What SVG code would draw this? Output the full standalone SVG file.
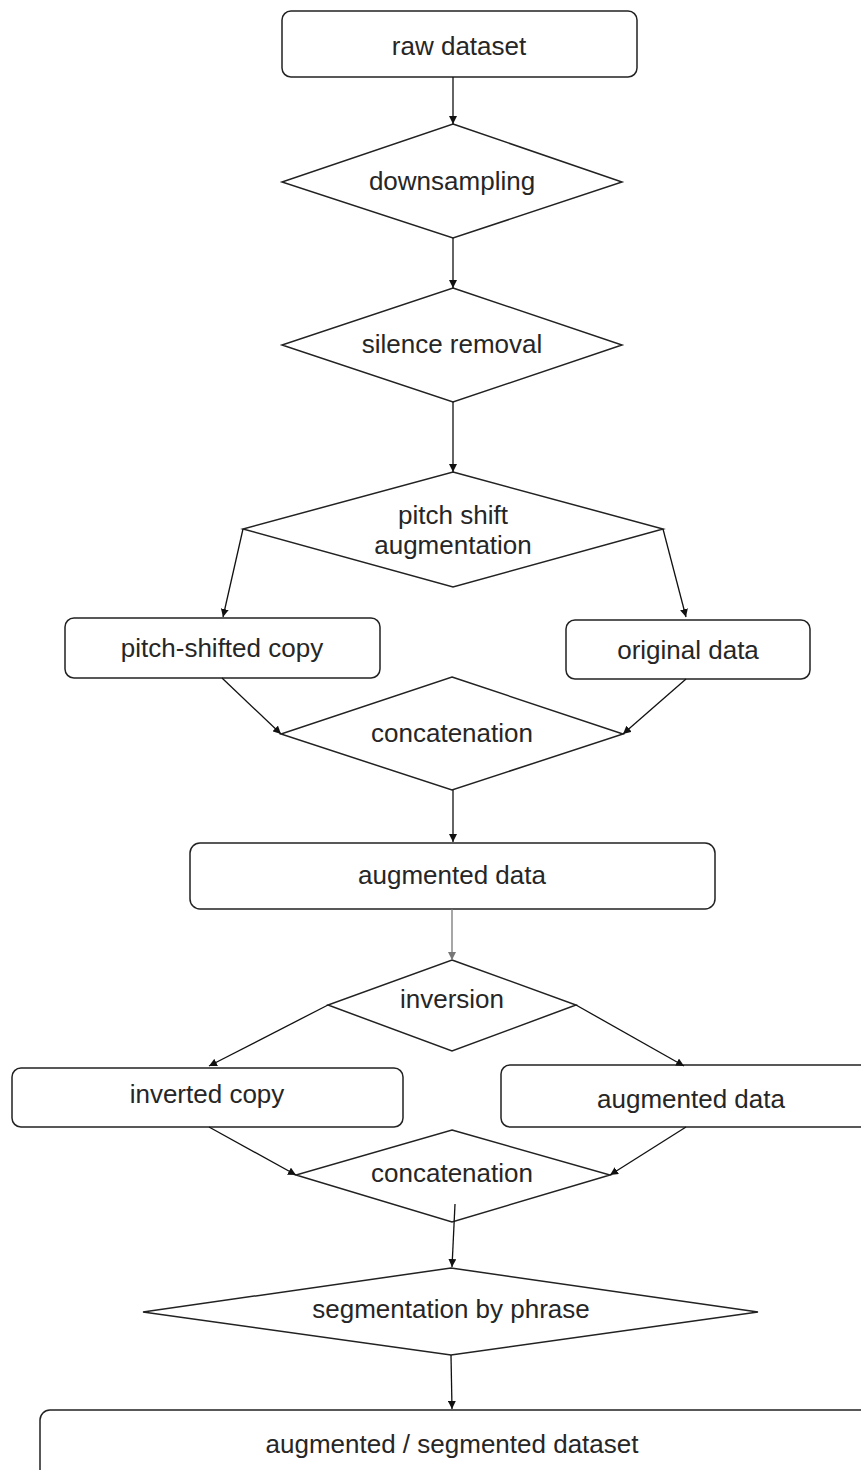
<svg xmlns="http://www.w3.org/2000/svg" width="861" height="1470" viewBox="0 0 861 1470">
<style>
.n{fill:#fff;stroke:#222;stroke-width:1.5}
.t{font-family:"Liberation Sans",Arial,sans-serif;font-size:26px;fill:#262626;text-anchor:middle}
.c{stroke:#111;stroke-width:1.3;fill:none;marker-end:url(#ah)}
</style>
<defs>
<marker id="ah" viewBox="0 0 10 10" refX="10" refY="5" markerWidth="8" markerHeight="8" markerUnits="userSpaceOnUse" orient="auto">
<path d="M0,0 L10,5 L0,10 z" fill="#111"/>
</marker>
<marker id="ahg" viewBox="0 0 10 10" refX="10" refY="5" markerWidth="8" markerHeight="8" markerUnits="userSpaceOnUse" orient="auto">
<path d="M0,0 L10,5 L0,10 z" fill="#777"/>
</marker>
</defs>
<rect width="861" height="1470" fill="#fff"/>
<g id="raw-dataset">
<rect class="n" x="282" y="11" width="355" height="66" rx="9"/>
<text class="t" x="459" y="55">raw dataset</text>
</g>
<g id="downsampling">
<polygon class="n" points="453,124 622,182 453,238 282,182"/>
<text class="t" x="452" y="190">downsampling</text>
</g>
<g id="silence-removal">
<polygon class="n" points="453,288 622,345 453,402 282,345"/>
<text class="t" x="452" y="353">silence removal</text>
</g>
<g id="pitch-shift">
<polygon class="n" points="453,472 663,529 453,587 243,529"/>
<text class="t" x="453" y="524">pitch shift</text>
<text class="t" x="453" y="554">augmentation</text>
</g>
<g id="pitch-shifted-copy">
<rect class="n" x="65" y="618" width="315" height="60" rx="9"/>
<text class="t" x="222" y="657">pitch-shifted copy</text>
</g>
<g id="original-data">
<rect class="n" x="566" y="620" width="244" height="59" rx="9"/>
<text class="t" x="688" y="659">original data</text>
</g>
<g id="concatenation-1">
<polygon class="n" points="452,677 623,734 452,790 281,734"/>
<text class="t" x="452" y="742">concatenation</text>
</g>
<g id="augmented-data">
<rect class="n" x="190" y="843" width="525" height="66" rx="10"/>
<text class="t" x="452" y="884">augmented data</text>
</g>
<g id="inversion">
<polygon class="n" points="452,960 576,1005 452,1051 328,1005"/>
<text class="t" x="452" y="1008">inversion</text>
</g>
<g id="inverted-copy">
<rect class="n" x="12" y="1068" width="391" height="59" rx="9"/>
<text class="t" x="207" y="1103">inverted copy</text>
</g>
<g id="augmented-data-2">
<rect class="n" x="501" y="1065" width="380" height="62" rx="9"/>
<text class="t" x="691" y="1108">augmented data</text>
</g>
<g id="concatenation-2">
<polygon class="n" points="452,1130 610,1175 452,1222 296,1175"/>
<text class="t" x="452" y="1182">concatenation</text>
</g>
<g id="segmentation">
<polygon class="n" points="451,1268 758,1312 451,1355 143,1312"/>
<text class="t" x="451" y="1318">segmentation by phrase</text>
</g>
<g id="final-dataset">
<rect class="n" x="40" y="1410" width="840" height="90" rx="10"/>
<text class="t" x="452" y="1453">augmented / segmented dataset</text>
</g>
<g id="connectors">
<line class="c" x1="453" y1="77" x2="453" y2="124"/>
<line class="c" x1="453" y1="238" x2="453" y2="288"/>
<line class="c" x1="453" y1="402" x2="453" y2="472"/>
<line class="c" x1="243" y1="529" x2="223" y2="617"/>
<line class="c" x1="663" y1="529" x2="686" y2="617"/>
<line class="c" x1="222" y1="678" x2="281" y2="734"/>
<line class="c" x1="686" y1="679" x2="623" y2="734"/>
<line class="c" x1="453" y1="790" x2="453" y2="842"/>
<line x1="452" y1="909" x2="452" y2="960" stroke="#777" stroke-width="1.3" marker-end="url(#ahg)"/>
<line class="c" x1="328" y1="1005" x2="209" y2="1066"/>
<line class="c" x1="576" y1="1005" x2="684" y2="1066"/>
<line class="c" x1="209" y1="1127" x2="296" y2="1175"/>
<line class="c" x1="686" y1="1127" x2="610" y2="1175"/>
<line class="c" x1="455" y1="1204" x2="452" y2="1267"/>
<line class="c" x1="451" y1="1355" x2="452" y2="1409"/>
</g>
</svg>
